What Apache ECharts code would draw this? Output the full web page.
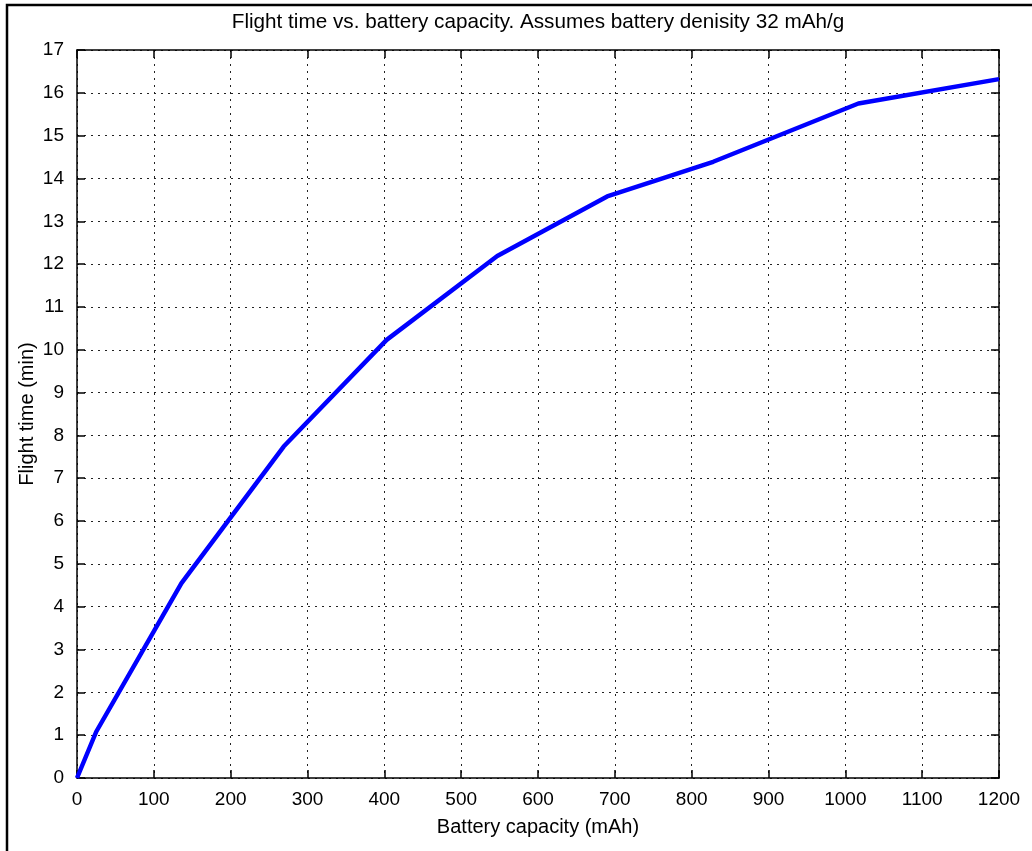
<!DOCTYPE html>
<html>
<head>
<meta charset="utf-8">
<script src="https://cdn.jsdelivr.net/npm/echarts@6/dist/echarts.min.js"></script>
<style>
html,body{margin:0;padding:0;background:#fff;}
#chart{width:1032px;height:851px;}
</style>
</head>
<body>
<div id="chart"></div>
<script>
const capacity = [0, 25, 136, 269, 403, 547, 690, 828, 1017, 1200];
const flightTime = [0, 1.08, 4.55, 7.74, 10.23, 12.19, 13.58, 14.39, 15.75, 16.32];
const titleText = 'Flight time vs. battery capacity. Assumes battery denisity 32 mAh/g';
const xName = 'Battery capacity (mAh)';
const yName = 'Flight time (min)';

const FONT = '"Liberation Sans", Arial, Helvetica, sans-serif';
const chart = echarts.init(document.getElementById('chart'), null, {renderer: 'canvas'});
const gridDash = () => ({type: [2, 5], color: '#222', width: 1});
const tickStyle = () => ({show: true, inside: true, length: 8, lineStyle: {color: '#000', width: 1.5}});
const axisLine = () => ({show: true, onZero: false, lineStyle: {color: '#000', width: 1.5}});
const plain = v => String(v);

chart.setOption({
  animation: false,
  backgroundColor: '#fff',
  grid: {left: 77, top: 50, width: 922, height: 728, show: false},
  graphic: [
    {type: 'text', style: {x: 538, y: 22, text: titleText, font: '20.7px ' + FONT, fill: '#000', textAlign: 'center', textVerticalAlign: 'middle'}, z: 100},
    {type: 'polyline', shape: {points: [[7, 851], [7, 5], [1032, 5]]}, style: {stroke: '#000', lineWidth: 2.5, fill: null}, z: 100}
  ],
  xAxis: [
    {type: 'value', min: 0, max: 1200, interval: 100, position: 'bottom',
     name: xName, nameLocation: 'middle', nameGap: 39, nameMoveOverlap: false,
     nameTextStyle: {fontFamily: FONT, fontSize: 20, color: '#000'},
     axisLine: axisLine(),
     axisTick: tickStyle(),
     axisLabel: {fontFamily: FONT, fontSize: 19, color: '#000', margin: 12, formatter: plain},
     splitLine: {show: true, lineStyle: gridDash()}},
    {type: 'value', min: 0, max: 1200, interval: 100, position: 'top',
     axisLine: axisLine(),
     axisTick: tickStyle(), axisLabel: {show: false}, splitLine: {show: false}}
  ],
  yAxis: [
    {type: 'value', min: 0, max: 17, interval: 1, position: 'left',
     name: yName, nameLocation: 'middle', nameGap: 40, nameRotate: 90, nameMoveOverlap: false,
     nameTextStyle: {fontFamily: FONT, fontSize: 20, color: '#000'},
     axisLine: axisLine(),
     axisTick: tickStyle(),
     axisLabel: {fontFamily: FONT, fontSize: 19, color: '#000', margin: 13, formatter: plain},
     splitLine: {show: true, lineStyle: gridDash()}},
    {type: 'value', min: 0, max: 17, interval: 1, position: 'right',
     axisLine: axisLine(),
     axisTick: tickStyle(), axisLabel: {show: false}, splitLine: {show: false}}
  ],
  series: [{
    type: 'line',
    data: capacity.map((c, i) => [c, flightTime[i]]),
    showSymbol: false,
    symbol: 'none',
    lineStyle: {color: '#0000ff', width: 4.5},
    z: 10
  }]
});
</script>
</body>
</html>
